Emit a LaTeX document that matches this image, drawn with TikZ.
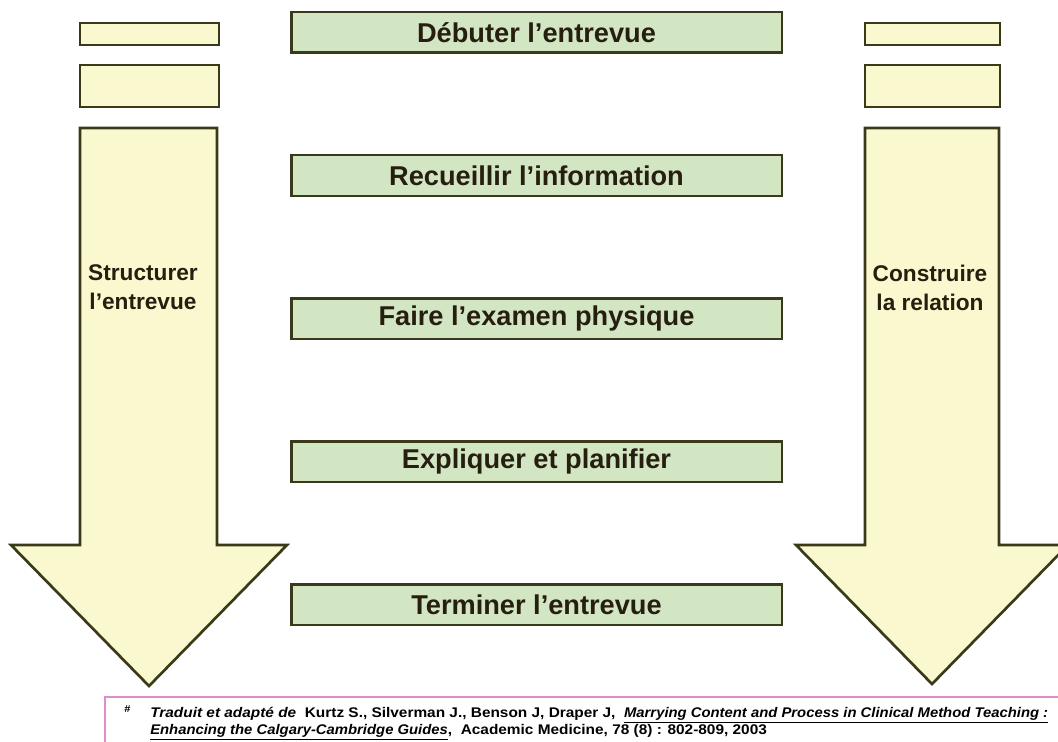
\documentclass[tikz,border=0pt]{standalone}
\usepackage{fontspec}
\setmainfont{Liberation Sans}
\newfontfamily\notefont[FakeStretch=1.1]{Liberation Sans}
\newfontfamily\notetitlefont[FakeStretch=1.06]{Liberation Sans}
\usetikzlibrary{positioning}
\definecolor{olive}{RGB}{58,58,26}
\definecolor{paleyellow}{RGB}{250,248,206}
\definecolor{palegreen}{RGB}{211,230,196}
\definecolor{inkbrown}{RGB}{38,30,14}
\definecolor{pinkline}{RGB}{225,140,200}
\newcommand{\reftitle}[1]{\underline{\notetitlefont\itshape #1}}

\begin{document}
\begin{tikzpicture}[x=0.75pt,y=-0.75pt,
node distance=74.75pt
]
\tikzstyle{step box} = [draw=olive, line width=2pt, fill=palegreen, minimum width=368pt,
  minimum height=30.5pt, inner sep=0pt, text=inkbrown, font=\fontsize{20.4}{22}\selectfont\bfseries]
\tikzstyle{small box} = [draw=olive, line width=2pt, fill=paleyellow]
\tikzstyle{big arrow} = [draw=olive, line width=2pt, fill=paleyellow, line join=miter]
\tikzstyle{arrow text} = [text=inkbrown, align=center, font=\fontsize{17}{22}\selectfont\bfseries]
\useasboundingbox (0,0) rectangle (1058,742);

% left column
\draw[small box] (80,23) rectangle (219,45);
\draw[small box] (80,65) rectangle (219,107);
\draw[big arrow] (80,128) -- (217,128) -- (217,545) -- (287,545) -- (149,686)
  -- (11,545) -- (80,545) -- cycle;
\node[arrow text] (structurer) at (143,287) {Structurer\\l'entrevue};

% right column
\draw[small box] (865,23) rectangle (1000,45);
\draw[small box] (865,65) rectangle (1000,107);
\draw[big arrow] (865,128) -- (999,128) -- (999,545) -- (1068,545) -- (932,684)
  -- (796,545) -- (865,545) -- cycle;
\node[arrow text] (construire) at (930,288) {Construire\\la relation};

% steps
\node[step box] (debuter) at (536.5,32.5) {Débuter l'entrevue};
\node[step box, below=of debuter] (recueillir) {Recueillir l'information};
\node[step box, below=of recueillir] (examen) {Faire l'examen physique};
\node[step box, below=of examen] (expliquer) {Expliquer et planifier};
\node[step box, below=of expliquer] (terminer) {Terminer l'entrevue};

% footnote
\draw[pinkline, line width=0.8pt] (105,742) -- (105,697) -- (1058,697);
\node[anchor=north west, inner sep=0pt, font=\notefont\fontsize{7.5}{8}\selectfont\bfseries]
  (diese) at (124,705) {\#};
\node[anchor=north west, inner sep=0pt, align=left, text=black,
  font=\notefont\fontsize{10.5}{12.75}\selectfont\bfseries] (source) at (150,707)
  {\textit{Traduit et adapté de}\ \ Kurtz S., Silverman J., Benson J, Draper J,\ \ \reftitle{Marrying Content and Process in Clinical Method Teaching :}\\
   \reftitle{Enhancing the Calgary-Cambridge Guides},\ \ Academic Medicine, 78 (8) : 802-809, 2003};
\end{tikzpicture}
\end{document}
